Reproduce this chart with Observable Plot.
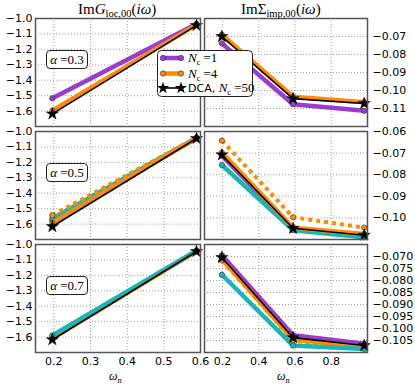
<!DOCTYPE html>
<html><head><meta charset="utf-8">
<script src="https://cdn.jsdelivr.net/npm/d3@7"></script>
<script src="https://cdn.jsdelivr.net/npm/@observablehq/plot@0.6"></script>
<style>
html,body{margin:0;padding:0;background:#fff;overflow:hidden}
#root{position:relative;width:415px;height:387px;background:#fff}
#root svg{position:absolute;left:0;top:0}
.t{position:absolute;font-family:"Liberation Serif",serif;color:#000;white-space:nowrap;line-height:1}
.t i{font-style:italic}
.t sub{font-size:70%;vertical-align:baseline;position:relative;top:0.3em}
.abox{position:absolute;border:1px solid #222;border-radius:4px;background:#fff;font-family:"Liberation Serif",serif;font-size:13px;text-align:center;line-height:17px;height:17px;width:40px}
</style></head>
<body><div id="root"></div>
<script>
// Matsubara frequencies
const omegaG = [0.196, 0.589];
const omegaS = [0.196, 0.589, 0.982];
const alphaLabels = ["0.3", "0.5", "0.7"];

// ImG_loc (left column), alpha = 0.3
const g3_nc1 = [-1.517, -1.035];
const g3_nc4 = [-1.597, -1.040];
const g3_dca = [-1.618, -1.045];
// alpha = 0.5
const g5_nc1 = [-1.577, -1.043];
const g5_cyan = [-1.564, -1.042];
const g5_nc4 = [-1.592, -1.043];
const g5_nc4dot = [-1.543, -1.040];
const g5_dca = [-1.616, -1.045];
// alpha = 0.7
const g7_nc1 = [-1.600, -1.042];
const g7_cyan = [-1.590, -1.040];
const g7_nc4 = [-1.607, -1.043];
const g7_nc4dot = [-1.610, -1.044];
const g7_dca = [-1.617, -1.045];

// ImSigma_imp (right column), alpha = 0.3
const s3_nc1 = [-0.0738, -0.1076, -0.1113];
const s3_nc4 = [-0.0690, -0.1035, -0.1065];
const s3_dca = [-0.0700, -0.1045, -0.1072];
// alpha = 0.5
const s5_nc1 = [-0.0712, -0.1050, -0.1088];
const s5_cyan = [-0.0755, -0.1057, -0.1090];
const s5_nc4 = [-0.0698, -0.1045, -0.1075];
const s5_nc4dot = [-0.0642, -0.0997, -0.1045];
const s5_dca = [-0.0708, -0.1048, -0.1080];
// alpha = 0.7
const s7_nc1 = [-0.0695, -0.1028, -0.1063];
const s7_cyan = [-0.0776, -0.1071, -0.1085];
const s7_nc4 = [-0.0712, -0.1046, -0.1077];
const s7_nc4dot = [-0.0716, -0.1050, -0.1080];
const s7_dca = [-0.0704, -0.1038, -0.1071];

// axes
const xTicksG = [0.2, 0.3, 0.4, 0.5, 0.6];
const xTicksS = [0.2, 0.4, 0.6, 0.8];
const yTicksG = [-1.6, -1.5, -1.4, -1.3, -1.2, -1.1, -1.0];
const yTicksS3 = [-0.11, -0.10, -0.09, -0.08, -0.07];
const yTicksS5 = [-0.10, -0.09, -0.08, -0.07, -0.06];
const yTicksS7 = [-0.105, -0.100, -0.095, -0.090, -0.085, -0.080, -0.075, -0.070];

const PURPLE = "#9a3ccf", ORANGE = "#ff8c00", CYAN = "#19b6b6";
const sty = {
  nc1: {color: PURPLE, w: 4.5, marker: "circle"},
  cyan: {color: CYAN, w: 4.5, marker: "circle"},
  nc4: {color: ORANGE, w: 4.5, marker: "circle"},
  nc4dot: {color: ORANGE, w: 4, dash: "4,4", marker: "circle"},
  dca: {color: "#000", w: 1.6, marker: "star"}
};

const rowTops = [18, 131, 244];
const H = 108;
const cols = [{l: 35, r: 200}, {l: 204, r: 367}];

const panels = [
  {row: 0, col: 0, x: omegaG, s: {nc1: g3_nc1, nc4: g3_nc4, dca: g3_dca}},
  {row: 1, col: 0, x: omegaG, s: {nc1: g5_nc1, cyan: g5_cyan, nc4: g5_nc4, nc4dot: g5_nc4dot, dca: g5_dca}},
  {row: 2, col: 0, x: omegaG, s: {nc1: g7_nc1, nc4: g7_nc4, nc4dot: g7_nc4dot, cyan: g7_cyan, dca: g7_dca}},
  {row: 0, col: 1, x: omegaS, s: {nc1: s3_nc1, nc4: s3_nc4, dca: s3_dca}},
  {row: 1, col: 1, x: omegaS, s: {nc1: s5_nc1, cyan: s5_cyan, nc4: s5_nc4, nc4dot: s5_nc4dot, dca: s5_dca}},
  {row: 2, col: 1, x: omegaS, s: {nc1: s7_nc1, nc4: s7_nc4, nc4dot: s7_nc4dot, cyan: s7_cyan, dca: s7_dca}}
];
const yDomains = {
  "0-0": [-1.7, -1.0], "1-0": [-1.7, -1.0], "2-0": [-1.7, -1.0],
  "0-1": [-0.12, -0.06], "1-1": [-0.11, -0.06], "2-1": [-0.11, -0.065]
};
const yTicks = {
  "0-0": yTicksG, "1-0": yTicksG, "2-0": yTicksG,
  "0-1": yTicksS3, "1-1": yTicksS5, "2-1": yTicksS7
};
const yFmt = {"0-1": ".2f", "1-1": ".2f", "2-1": ".3f"};

const root = document.getElementById("root");
for (const p of panels) {
  const key = p.row + "-" + p.col;
  const c = cols[p.col];
  const top = rowTops[p.row];
  const xT = p.col === 0 ? xTicksG : xTicksS;
  const marks = [
    Plot.ruleX(xT, {stroke: "#8a8a8a", strokeWidth: 0.8, strokeDasharray: "1,2"}),
    Plot.ruleY(yTicks[key], {stroke: "#8a8a8a", strokeWidth: 0.8, strokeDasharray: "1,2"})
  ];
  for (const [name, vals] of Object.entries(p.s)) {
    const st = sty[name];
    const data = vals.map((v, i) => ({x: p.x[i], y: v}));
    marks.push(Plot.line(data, {x: "x", y: "y", stroke: st.color, strokeWidth: st.w, strokeDasharray: st.dash, strokeLinecap: st.dash ? "butt" : "round"}));
    if (st.marker === "circle") {
      marks.push(Plot.dot(data, {x: "x", y: "y", r: 2.7, fill: st.color, stroke: "#333", strokeWidth: 0.6}));
    } else {
      marks.push(Plot.dot(data, {x: "x", y: "y", r: 3.8, symbol: "star", fill: "#000", stroke: "#000", strokeWidth: 0.5}));
    }
  }
  marks.push(Plot.frame({stroke: "#555", strokeWidth: 1.5}));
  const svg = Plot.plot({
    width: 415, height: 387,
    marginLeft: c.l, marginRight: 415 - c.r, marginTop: top, marginBottom: 387 - top - H,
    style: {fontFamily: "DejaVu Sans", fontSize: "11px", background: "transparent", overflow: "visible", color: "#000"},
    x: {domain: p.col === 0 ? [0.15, 0.6] : [0.1, 1.0], ticks: xT, tickFormat: d3.format(".1f"),
        axis: p.row === 2 ? "bottom" : null, tickSize: 0, tickPadding: 5, label: null},
    y: {domain: yDomains[key], ticks: yTicks[key], axis: p.col === 0 ? "left" : "right",
        tickFormat: d3.format(p.col === 0 ? ".1f" : yFmt[key]), tickSize: 0, tickPadding: p.col === 0 ? 3 : 5, label: null},
    marks
  });
  svg.style.position = "absolute"; svg.style.left = "0px"; svg.style.top = "0px";
  svg.style.maxWidth = "none";
  root.appendChild(svg);
}

function addHTML(html, cls, css) {
  const d = document.createElement("div");
  d.className = cls; d.innerHTML = html;
  Object.assign(d.style, css);
  root.appendChild(d);
  return d;
}
// titles
addHTML('Im<i>G</i><sub>loc,00</sub>(<i>iω</i>)', "t", {left: "78px", top: "2px", fontSize: "15px"});
addHTML('ImΣ<sub>imp,00</sub>(<i>iω</i>)', "t", {left: "241px", top: "2px", fontSize: "15px"});
// x labels
addHTML('<i>ω</i><sub>n</sub>', "t", {left: "109px", top: "370px", fontSize: "12px"});
addHTML('<i>ω</i><sub>n</sub>', "t", {left: "277px", top: "370px", fontSize: "12px"});
// alpha boxes
alphaLabels.forEach((a, i) => {
  addHTML('<i>α</i> =' + a, "abox", {left: "46px", top: (rowTops[i] + 32) + "px"});
});

// legend
const ns = "http://www.w3.org/2000/svg";
const lg = d3.select(root).append("svg").attr("width", 415).attr("height", 387).style("position", "absolute").style("left", "0px").style("top", "0px");
lg.append("rect").attr("x", 157.5).attr("y", 50.5).attr("width", 95).attr("height", 46).attr("rx", 4).attr("fill", "#fff").attr("stroke", "#222").attr("stroke-width", 1);
const legItems = [
  {name: "nc1", y: 58, label: '<tspan font-style="italic">N</tspan><tspan font-size="8" dy="3">c</tspan><tspan dy="-3"> =1</tspan>'},
  {name: "nc4", y: 73.5, label: '<tspan font-style="italic">N</tspan><tspan font-size="8" dy="3">c</tspan><tspan dy="-3"> =4</tspan>'},
  {name: "dca", y: 88, label: '<tspan font-family="DejaVu Sans" font-size="11">DCA, </tspan><tspan font-style="italic">N</tspan><tspan font-size="8" dy="3">c</tspan><tspan dy="-3"> =50</tspan>'}
];
for (const it of legItems) {
  const st = sty[it.name];
  lg.append("line").attr("x1", 163).attr("x2", 181).attr("y1", it.y).attr("y2", it.y).attr("stroke", st.color).attr("stroke-width", st.w);
  for (const x of [163, 181]) {
    if (st.marker === "circle") {
      lg.append("circle").attr("cx", x).attr("cy", it.y).attr("r", 2.7).attr("fill", st.color).attr("stroke", "#333").attr("stroke-width", 0.6);
    } else {
      lg.append("path").attr("d", d3.symbol(d3.symbolStar, Math.PI * 3.8 * 3.8)()).attr("transform", `translate(${x},${it.y})`).attr("fill", "#000");
    }
  }
  lg.append("text").attr("x", 188).attr("y", it.y + 4).attr("font-family", "Liberation Serif").attr("font-size", 13).html(it.label);
}
</script>
</body></html>
